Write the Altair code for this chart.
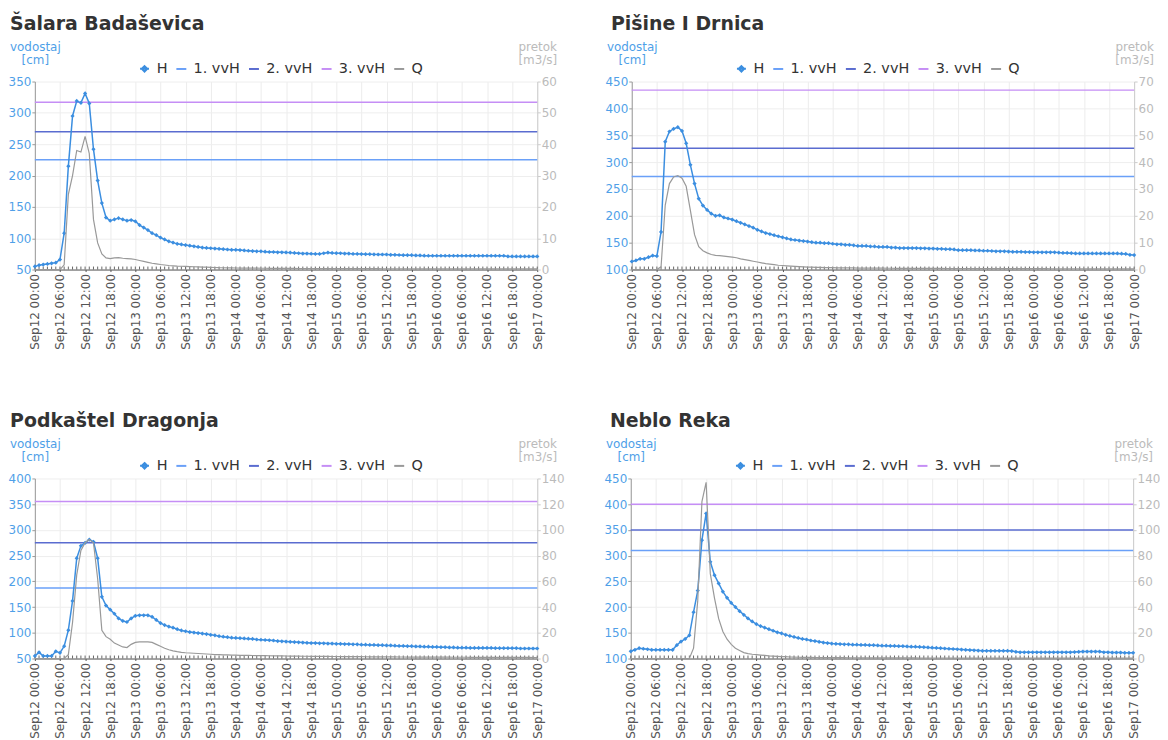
import altair as alt
import pandas as pd

# ---------------- data (hourly readings, Sep12 00:00 .. Sep17 00:00) ----------------
SERIES = ["H", "1. vvH", "2. vvH", "3. vvH", "Q"]
COLORS = ["#3b8ee0", "#6aa0f8", "#5a6cd0", "#c58ef5", "#999999"]

H_SALARA = [55, 57, 58, 59, 60, 61, 66, 108, 215, 295,
            319, 316, 331, 315, 242, 192, 156, 133, 128, 130,
            132, 130, 128, 129, 127, 121, 117, 113, 108, 105,
            101, 98, 95, 93, 91, 90, 89, 88, 87, 86,
            85, 84.5, 84, 83.5, 83, 82.5, 82, 81.5, 81.5, 81,
            80.5, 80, 79.5, 79, 79, 78.5, 78, 78, 77.5, 77.5,
            77.3, 77, 76.5, 76, 75.5, 75.5, 75.2, 75, 75, 76,
            77, 76.5, 76.2, 76, 75.5, 75.5, 75, 75, 74.7, 74.5,
            74.5, 74.2, 74, 74, 74, 73.5, 73.5, 73.2, 73, 73,
            73, 72.5, 72.5, 72.2, 72, 72, 72, 72, 72, 72,
            72, 72, 72, 72, 72, 72, 72, 72, 72, 72,
            72, 72, 72, 71, 71, 71, 71, 71, 71, 71,
            71]
Q_SALARA = [0, 0, 0, 0, 0, 0, 0, 1.5, 24, 30,
            38, 37.5, 42.5, 37, 16, 8.5, 5, 3.7, 3.5, 3.7,
            3.8, 3.6, 3.5, 3.4, 3.2, 2.9, 2.6, 2.3, 2.0, 1.8,
            1.6, 1.45, 1.3, 1.2, 1.1, 1.05, 1.0, 0.95, 0.9, 0.85,
            0.8, 0.75, 0.7, 0.65, 0.6, 0.58, 0.55, 0.52, 0.5, 0.48,
            0.46, 0.45, 0.44, 0.43, 0.42, 0.41, 0.4, 0.39, 0.38, 0.37,
            0.36, 0.35, 0.35, 0.34, 0.34, 0.33, 0.33, 0.32, 0.32, 0.31,
            0.31, 0.3, 0.3, 0.3, 0.29, 0.29, 0.29, 0.28, 0.28, 0.28,
            0.27, 0.27, 0.27, 0.26, 0.26, 0.26, 0.25, 0.25, 0.25, 0.25,
            0.24, 0.24, 0.24, 0.24, 0.23, 0.23, 0.23, 0.23, 0.22, 0.22,
            0.22, 0.22, 0.22, 0.21, 0.21, 0.21, 0.21, 0.21, 0.2, 0.2,
            0.2, 0.2, 0.2, 0.2, 0.2, 0.2, 0.2, 0.2, 0.2, 0.2,
            0.2]
THR_SALARA = [225, 270, 317]

H_PISINE = [115, 117, 120, 120, 123, 126, 125, 170, 338, 357,
            362, 365, 358, 335, 295, 260, 232, 219, 211, 204,
            200, 201, 197, 195, 193, 190, 187, 184, 181, 178,
            174, 171, 168, 166, 164, 162, 160, 158, 156, 155,
            154, 153, 152, 151, 150, 150, 149, 149, 148, 147,
            147, 146, 146, 145, 144, 144, 144, 143, 143, 142,
            142, 142, 141, 141, 140, 140, 140, 140, 140, 139.5,
            139.5, 139, 139, 138.5, 138.5, 138, 138, 137.5, 136, 136,
            136, 136, 135.5, 135.5, 135, 135, 134.5, 134, 134, 134,
            133.5, 133, 133, 133, 132.5, 132.5, 132, 132, 132, 132,
            132, 132, 131.5, 131, 131, 130.5, 130, 130, 130, 130,
            130, 130, 130, 130, 130, 130, 130, 129.5, 129, 127.5,
            127]
Q_PISINE = [0, 0, 0, 0, 0, 0, 0, 1, 24, 32,
            34.5, 35, 34, 31, 22, 13, 8.5, 7, 6.2, 5.6,
            5.3, 5.2, 5.0, 4.8, 4.6, 4.4, 4.0, 3.7, 3.4, 3.1,
            2.8, 2.5, 2.2, 2.0, 1.8, 1.6, 1.5, 1.4, 1.3, 1.2,
            1.1, 1.0, 0.9, 0.9, 0.8, 0.8, 0.7, 0.7, 0.7, 0.65,
            0.65, 0.6, 0.6, 0.6, 0.55, 0.55, 0.55, 0.5, 0.5, 0.5,
            0.5, 0.48, 0.48, 0.46, 0.46, 0.45, 0.45, 0.44, 0.44, 0.43,
            0.43, 0.42, 0.42, 0.41, 0.41, 0.4, 0.4, 0.4, 0.39, 0.39,
            0.38, 0.38, 0.37, 0.37, 0.36, 0.36, 0.35, 0.35, 0.35, 0.34,
            0.34, 0.33, 0.33, 0.33, 0.32, 0.32, 0.32, 0.31, 0.31, 0.31,
            0.3, 0.3, 0.3, 0.3, 0.3, 0.29, 0.29, 0.29, 0.29, 0.28,
            0.28, 0.28, 0.28, 0.28, 0.27, 0.27, 0.27, 0.27, 0.27, 0.26,
            0.26]
THR_PISINE = [273, 326, 434]

H_PODKASTEL = [55, 62, 55, 55, 55, 64, 61, 74, 105, 162,
               245, 269, 275, 281, 277, 245, 170, 153, 145, 137,
               128, 123, 121, 128, 133, 134, 134, 134, 131, 125,
               119, 115, 112, 110, 107, 104.5, 103, 101.5, 100.5, 99.5,
               98.5, 97.5, 96, 95, 93.5, 92.5, 91.5, 90.5, 90, 89.5,
               89, 88.5, 88, 87, 86.5, 86, 85.5, 85, 84, 83.5,
               83, 82.5, 82, 81.5, 81, 80.5, 80, 80, 79.5, 79.5,
               79, 79, 78.5, 78.5, 78, 78, 77.5, 77.5, 77, 77,
               76.5, 76.5, 76, 76, 75.5, 75.5, 75, 74.5, 74.5, 74,
               74, 73.5, 73.5, 73, 73, 72.5, 72.5, 72, 72, 71.5,
               71.5, 71, 71, 71, 70.5, 70.5, 70.5, 70.5, 70.5, 70.5,
               70, 70, 70, 70, 70, 70, 69.5, 69.5, 69.5, 69.5,
               69.5]
Q_PODKASTEL = [0, 0, 0, 0, 0, 0, 0, 0, 3, 28,
               65, 84, 90, 92.5, 90, 62, 22, 17, 15, 12,
               10.5, 9, 8.5, 11, 12.5, 13, 13, 13, 12.5, 11,
               9.5, 8, 6.8, 6, 5.3, 4.8, 4.5, 4.3, 4.1, 3.9,
               3.7, 3.5, 3.3, 3.1, 3.0, 2.9, 2.8, 2.7, 2.6, 2.5,
               2.45, 2.4, 2.35, 2.3, 2.25, 2.2, 2.15, 2.1, 2.05, 2.0,
               1.95, 1.9, 1.85, 1.8, 1.78, 1.75, 1.72, 1.7, 1.67, 1.64,
               1.6, 1.58, 1.55, 1.52, 1.5, 1.47, 1.45, 1.42, 1.4, 1.38,
               1.35, 1.33, 1.3, 1.28, 1.26, 1.24, 1.22, 1.2, 1.18, 1.16,
               1.14, 1.12, 1.1, 1.08, 1.07, 1.06, 1.05, 1.04, 1.03, 1.02,
               1.0, 0.99, 0.98, 0.97, 0.96, 0.95, 0.94, 0.93, 0.92, 0.91,
               0.9, 0.89, 0.88, 0.87, 0.86, 0.85, 0.84, 0.83, 0.82, 0.81,
               0.8]
THR_PODKASTEL = [187, 275, 355]

H_NEBLO = [114, 117, 120, 119, 118, 117, 117, 117, 117, 117,
           117, 126, 133, 138, 145, 190, 232, 330, 382, 288,
           262, 246, 230, 218, 208, 200, 192, 185, 178, 172,
           167, 163, 160, 157, 154, 151, 149, 146, 144, 142,
           140, 138, 137, 135, 134, 132.5, 131, 130, 129, 128.5,
           128, 127.5, 127.5, 127, 127, 126.5, 126.5, 126, 126, 125.5,
           125, 125, 124.5, 124.5, 124, 124, 123.5, 123, 123, 122.5,
           122, 121.5, 121, 120.5, 120, 119.5, 119, 118.5, 118, 117.5,
           117, 116.5, 116, 115.5, 115, 115, 115, 115, 115, 115,
           115, 114.5, 113, 112, 112, 112, 112, 112, 112, 112,
           112, 112, 112, 112, 112, 112, 112.5, 113, 113.5, 113.5,
           113.5, 113.5, 113.5, 112, 112, 111.5, 111.5, 111.5, 111, 111,
           111]
Q_NEBLO = [0, 0, 0, 0, 0, 0, 0, 0, 0, 0,
           0, 0, 0, 0, 0, 8, 45, 122, 137, 66,
           47, 31, 21, 15, 11, 8, 6.3, 4.6, 3.8, 3.3,
           3.0, 2.7, 2.4, 2.1, 1.9, 1.7, 1.5, 1.4, 1.2, 1.1,
           1.0, 0.95, 0.9, 0.85, 0.8, 0.78, 0.75, 0.72, 0.7, 0.68,
           0.66, 0.64, 0.62, 0.6, 0.58, 0.56, 0.55, 0.54, 0.52, 0.51,
           0.5, 0.49, 0.48, 0.47, 0.46, 0.45, 0.44, 0.43, 0.43, 0.42,
           0.42, 0.41, 0.41, 0.4, 0.4, 0.39, 0.39, 0.38, 0.38, 0.37,
           0.37, 0.36, 0.36, 0.36, 0.35, 0.35, 0.35, 0.34, 0.34, 0.34,
           0.33, 0.33, 0.33, 0.33, 0.32, 0.32, 0.32, 0.32, 0.31, 0.31,
           0.31, 0.31, 0.3, 0.3, 0.3, 0.3, 0.3, 0.3, 0.3, 0.3,
           0.3, 0.3, 0.3, 0.3, 0.3, 0.3, 0.3, 0.3, 0.3, 0.3,
           0.3]
THR_NEBLO = [310, 350, 400]

START = pd.Timestamp("2022-09-12 00:00")
TICK_TIMES = [alt.DateTime(year=2022, month=9, date=d, hours=hh)
              for d in (12, 13, 14, 15, 16) for hh in (0, 6, 12, 18)]
TICK_TIMES.append(alt.DateTime(year=2022, month=9, date=17, hours=0))
X_DOMAIN = [alt.DateTime(year=2022, month=9, date=12, hours=0),
            alt.DateTime(year=2022, month=9, date=17, hours=0)]

FONT = "DejaVu Sans"
LBLUE = "#4f9fe8"
RGRAY = "#bbbbbb"
H_SHAPE = "M-0.9,0L0.9,0M0,-0.55L0.55,0L0,0.55L-0.55,0Z"
SHAPES = [H_SHAPE, "stroke", "stroke", "stroke", "stroke"]

W = 505


def panel(name, H, Q, thr, hdom, qdom, qstep, height, title_dx):
    df = pd.DataFrame({
        "t": [START + pd.Timedelta(hours=i) for i in range(len(H))],
        "H": H,
        "Q": Q,
    })
    tdf = pd.DataFrame({"v": thr, "s": SERIES[1:4]})

    x_axis = alt.Axis(values=TICK_TIMES, format="%b%d %H:%M", labelAngle=270,
                      labelFontSize=12, labelColor="#555555", labelFlush=False,
                      labelOverlap=False, domainColor="#555555", tickColor="#555555",
                      tickSize=2, labelPadding=2, grid=True, gridColor="#ececec")
    xenc = alt.X("t:T", title=None, scale=alt.Scale(domain=X_DOMAIN, nice=False), axis=x_axis)

    yscale = alt.Scale(domain=hdom, nice=False, zero=False)
    y_axis = alt.Axis(values=list(range(hdom[0], hdom[1] + 1, 50)), labelColor=LBLUE,
                      labelFontSize=12, titleColor=LBLUE, titleFontSize=12,
                      titleFontWeight="normal", titleAngle=0, titleAlign="center",
                      titleBaseline="top", titleX=0, titleY=-40, titleLineHeight=13,
                      domainColor="#999999", tickColor="#999999", tickSize=3,
                      labelPadding=1, grid=True, gridColor="#eeeeee")
    ytitle = ["vodostaj", "[cm]"]

    base = alt.Chart(df)
    hline = base.mark_line(color=COLORS[0], strokeWidth=1.5).encode(
        x=xenc, y=alt.Y("H:Q", scale=yscale, axis=y_axis, title=ytitle))
    hpts = base.mark_point(shape="diamond", filled=True, size=18, color=COLORS[0], opacity=1).encode(
        x=xenc, y=alt.Y("H:Q", scale=yscale, axis=y_axis, title=ytitle))
    rules = [
        alt.Chart(tdf).transform_filter(alt.datum.s == s).mark_rule(color=c, strokeWidth=1.5).encode(
            y=alt.Y("v:Q", scale=yscale, axis=y_axis, title=ytitle))
        for s, c in zip(SERIES[1:4], COLORS[1:4])
    ]
    minor = base.mark_rule(color="#666666", strokeWidth=1).encode(
        x=xenc, y=alt.value(height - 3), y2=alt.value(height))
    left = alt.layer(*rules, minor, hline, hpts)

    q_axis = alt.Axis(orient="right", values=list(range(qdom[0], qdom[1] + 1, qstep)),
                      labelColor=RGRAY, labelFontSize=12, titleColor=RGRAY, titleFontSize=12,
                      titleFontWeight="normal", titleAngle=0, titleAlign="center",
                      titleBaseline="top", titleX=0, titleY=-40, titleLineHeight=13,
                      domainColor="#cccccc", tickColor="#cccccc", tickSize=3,
                      labelPadding=1, grid=False)
    qline = base.mark_line(color=COLORS[4], strokeWidth=1.2).encode(
        x=xenc, y=alt.Y("Q:Q", scale=alt.Scale(domain=qdom, nice=False), axis=q_axis,
                        title=["pretok", "[m3/s]"]))

    leg = alt.Legend(orient="none", legendX=103, legendY=-20, direction="horizontal",
                     labelFontSize=14.5, labelColor="#333333", labelFont=FONT,
                     symbolSize=100, symbolStrokeWidth=2, symbolOpacity=1,
                     columnPadding=4, labelOffset=5, padding=0)
    legend_layer = alt.Chart(pd.DataFrame({"s": SERIES})).mark_point(
        filled=False, strokeWidth=2, size=100, opacity=0).encode(
        x=alt.value(0), y=alt.value(0),
        color=alt.Color("s:N", scale=alt.Scale(domain=SERIES, range=COLORS), legend=leg, title=None),
        shape=alt.Shape("s:N", scale=alt.Scale(domain=SERIES, range=SHAPES), legend=leg, title=None))

    return alt.layer(left, qline, legend_layer).resolve_scale(y="independent").properties(
        width=W, height=height,
        title=alt.TitleParams(name, anchor="start", fontSize=19, fontWeight="bold",
                              color="#333333", font=FONT, offset=7, dx=title_dx))


p1 = panel("Šalara Badaševica", H_SALARA, Q_SALARA, THR_SALARA, [50, 350], [0, 60], 10, 189, 2)
p2 = panel("Pišine I Drnica", H_PISINE, Q_PISINE, THR_PISINE, [100, 450], [0, 70], 10, 189, 6)
p3 = panel("Podkaštel Dragonja", H_PODKASTEL, Q_PODKASTEL, THR_PODKASTEL, [50, 400], [0, 140], 20, 181, 2)
p4 = panel("Neblo Reka", H_NEBLO, Q_NEBLO, THR_NEBLO, [100, 450], [0, 140], 20, 181, 6)

row1 = alt.hconcat(p1, p2, spacing=48).resolve_scale(
    color="independent", shape="independent").resolve_legend(color="independent", shape="independent")
row2 = alt.hconcat(p3, p4, spacing=40).resolve_scale(
    color="independent", shape="independent").resolve_legend(color="independent", shape="independent")

chart = alt.vconcat(row1, row2, spacing=62).resolve_scale(
    color="independent", shape="independent").resolve_legend(
    color="independent", shape="independent").properties(
    padding={"left": 0, "top": 5, "right": 0, "bottom": 0}
).configure(font=FONT).configure_view(strokeWidth=0).configure_axis(
    labelFont=FONT, titleFont=FONT).configure_legend(labelFont=FONT)

chart.save("out.html", embed_options={"renderer": "svg", "actions": False})
